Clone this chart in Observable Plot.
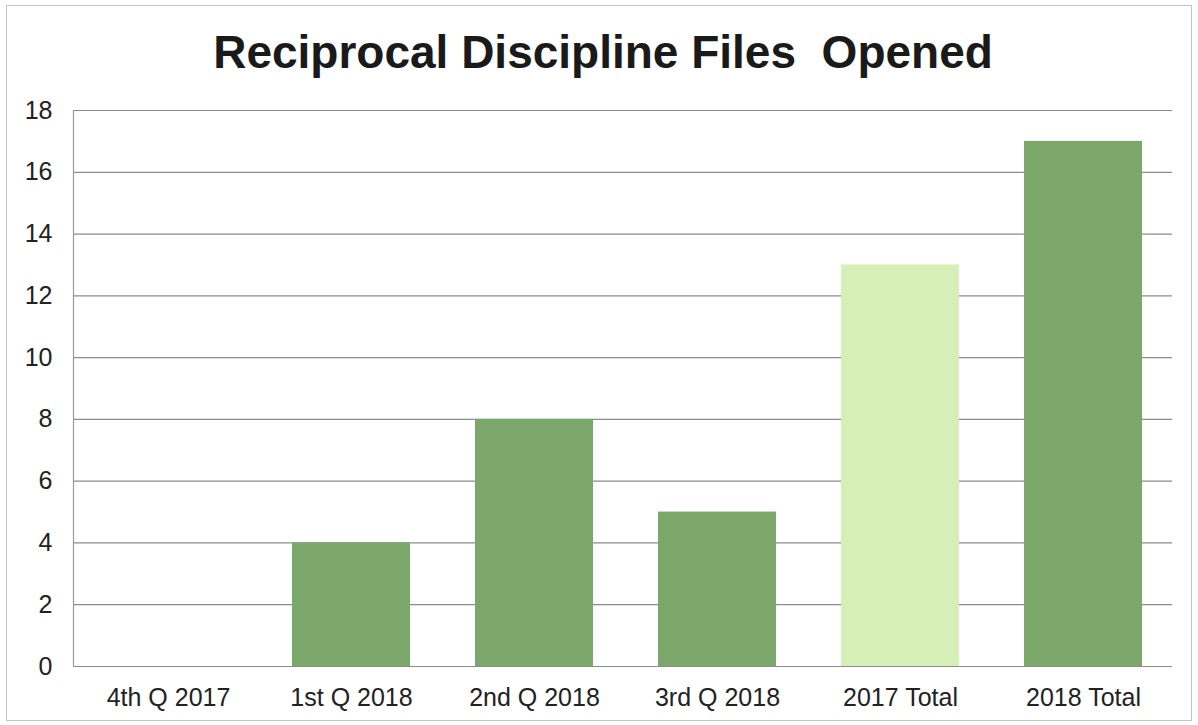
<!DOCTYPE html>
<html>
<head>
<meta charset="utf-8">
<script src="https://cdn.jsdelivr.net/npm/d3@7"></script>
<script src="https://cdn.jsdelivr.net/npm/@observablehq/plot@0.6"></script>
<style>
  body { margin: 0; background: #fff; }
  #wrap { position: relative; width: 1198px; height: 725px; overflow: hidden; font-family: "Liberation Sans", Arial, sans-serif; }
  #border { position: absolute; left: 6px; top: 5px; width: 1186px; height: 716px; border: 1px solid #c4c4c4; box-sizing: border-box; }
  #title { position: absolute; left: 4px; width: 1198px; top: 29px; text-align: center; font-size: 46px; line-height: 46px; font-weight: bold; color: #1a1a1a; white-space: pre; }
  #chart { position: absolute; left: 0; top: 85px; }
</style>
</head>
<body>
<div id="wrap">
  <div id="border"></div>
  <div id="title">Reciprocal Discipline Files  Opened</div>
  <div id="chart"></div>
</div>
<script>
const categories = ["4th Q 2017", "1st Q 2018", "2nd Q 2018", "3rd Q 2018", "2017 Total", "2018 Total"];
const values = [0, 4, 8, 5, 13, 17];
const yTicks = [0, 2, 4, 6, 8, 10, 12, 14, 16, 18];

const darkGreen = "#7ba76b";
const lightGreen = "#d5efb7";
const barFill = categories.map(c => c === "2017 Total" ? lightGreen : darkGreen);

const data = categories.map((c, i) => ({category: c, value: values[i]}));

const chart = Plot.plot({
  width: 1198,
  height: 640,
  marginTop: 25,
  marginBottom: 59,
  marginLeft: 73,
  marginRight: 26,
  style: {fontFamily: "'Liberation Sans', Arial, sans-serif", fontSize: "25px", color: "#222", background: "transparent", overflow: "visible"},
  x: {domain: categories, paddingInner: 0.355, paddingOuter: 0.1775, insetLeft: 3, insetRight: -3, label: null},
  y: {domain: [0, 18], label: null},
  color: {domain: categories, range: barFill},
  marks: [
    Plot.ruleY(yTicks, {stroke: "#8c8c8c", strokeWidth: 1.2, strokeOpacity: 1}),
    Plot.frame({anchor: "left", stroke: "#9a9a9a", strokeWidth: 1.2}),
    Plot.barY(data, {x: "category", y: "value", fill: "category"}),
    Plot.axisY(yTicks, {tickSize: 0, tickPadding: 21, fontSize: 25, label: null, fill: "#222"}),
    Plot.axisX({tickSize: 0, tickPadding: 22, fontSize: 25, label: null, fill: "#222"})
  ]
});
document.getElementById("chart").appendChild(chart);
</script>
</body>
</html>
